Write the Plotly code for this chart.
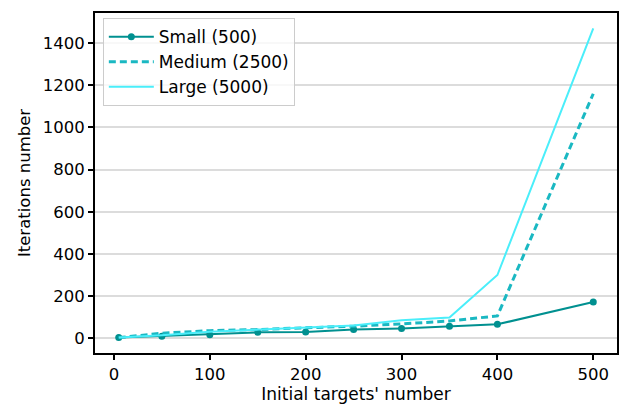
import plotly.graph_objects as go

# Initial number of targets (x) and iterations needed for each swarm size
targets = [5, 50, 100, 150, 200, 250, 300, 350, 400, 500]
small_iters = [3, 10, 17, 28, 30, 41, 46, 57, 66, 172]
medium_iters = [3, 24, 36, 41, 50, 57, 68, 82, 106, 1160]
large_iters = [3, 14, 31, 41, 52, 60, 85, 98, 300, 1470]

series_names = ["Small (500)", "Medium (2500)", "Large (5000)"]
y_ticks = [0, 200, 400, 600, 800, 1000, 1200, 1400]
x_ticks = [0, 100, 200, 300, 400, 500]

FONT = "DejaVu Sans"
FS = 16.5

fig = go.Figure()
fig.add_trace(go.Scatter(
    x=targets, y=small_iters, name=series_names[0], mode="lines+markers",
    line=dict(color="#009090", width=2), marker=dict(size=7, color="#009090"),
))
fig.add_trace(go.Scatter(
    x=targets, y=medium_iters, name=series_names[1], mode="lines",
    line=dict(color="#1ab8c2", width=3, dash="7px,4px"),
))
fig.add_trace(go.Scatter(
    x=targets, y=large_iters, name=series_names[2], mode="lines",
    line=dict(color="#4aeefa", width=2),
))

axis_common = dict(
    showline=True, linecolor="black", linewidth=2, mirror=True,
    ticks="outside", ticklen=5, tickwidth=1.5, tickcolor="black",
    tickfont=dict(family=FONT, size=FS, color="black"),
    zeroline=False,
)

fig.update_xaxes(
    range=[-19.75, 524.75], tickvals=x_ticks, showgrid=False,
    title=dict(text="Initial targets' number", font=dict(family=FONT, size=17, color="black"), standoff=4),
    **axis_common,
)
fig.update_yaxes(
    range=[-70, 1543], tickvals=y_ticks, showgrid=True, gridcolor="#dcdcdc", gridwidth=1.5,
    title=dict(text="Iterations number", font=dict(family=FONT, size=FS, color="black"), standoff=8),
    **axis_common,
)

fig.update_layout(
    width=623, height=404,
    margin=dict(l=95, r=4, t=13, b=50),
    paper_bgcolor="white", plot_bgcolor="white",
    font=dict(family=FONT, size=FS, color="black"),
    showlegend=True,
    legend=dict(
        x=0.015, y=0.985, xanchor="left", yanchor="top",
        bgcolor="rgba(255,255,255,0.8)", bordercolor="#cccccc", borderwidth=1,
        itemwidth=45,
        font=dict(family=FONT, size=17, color="black"),
    ),
)

fig.write_html("out.html")
